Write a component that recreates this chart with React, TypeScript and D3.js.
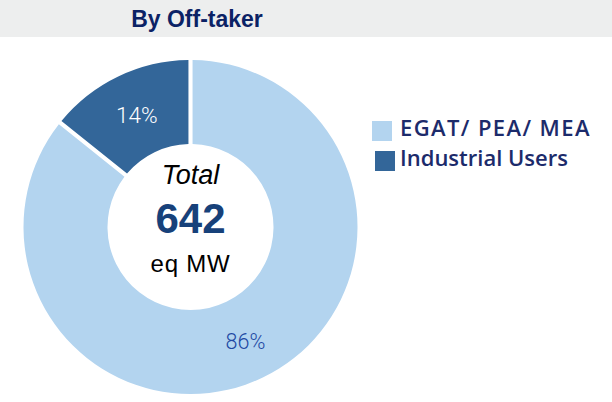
import React from "react";
import * as d3 from "d3";

const categories = ["EGAT/ PEA/ MEA", "Industrial Users"];
const shares = [86, 14];
const colors = ["#B3D4EF", "#336699"];
const labelColors = ["#2148A3", "#FFFFFF"];
const title = "By Off-taker";
const totalValue = "642";
const totalUnit = "eq MW";

const W = 612;
const H = 402;
const cx = 190.5;
const cy = 227;
const rOut = 167;
const rIn = 83;

export default function App() {
  const pie = d3
    .pie<number>()
    .sort(null)
    .value((d) => d)
    .startAngle(0)
    .endAngle(2 * Math.PI)
    .padAngle(0.022);
  const arcs = pie(shares);
  const arc = d3.arc<d3.PieArcDatum<number>>().innerRadius(rIn).outerRadius(rOut);
  const labelR = [127, 124];
  const labelPos = arcs.map((a, i) => {
    const m = (a.startAngle + a.endAngle) / 2;
    return [Math.sin(m) * labelR[i], -Math.cos(m) * labelR[i]];
  });

  return (
    <svg
      width={W}
      height={H}
      style={{ position: "absolute", left: 0, top: 0, background: "#fff" }}
      fontFamily="'Liberation Sans', Arial, sans-serif"
    >
      <rect x={0} y={0} width={W} height={37} fill="#EDEEEE" />
      <text x={197} y={27} textAnchor="middle" fontSize={23} fontWeight="bold" fill="#0B2265">
        {title}
      </text>
      <g transform={`translate(${cx},${cy})`}>
        {arcs.map((a, i) => (
          <path key={i} d={arc(a) || ""} fill={colors[i]} />
        ))}
        {arcs.map((a, i) => (
          <text
            key={"l" + i}
            x={labelPos[i][0]}
            y={labelPos[i][1]}
            textAnchor="middle"
            dominantBaseline="central"
            fontFamily="Roboto, sans-serif"
            fontWeight={300}
            fontSize={i === 0 ? 21.5 : 22.5}
            fill={labelColors[i]}
          >
            {shares[i]}%
          </text>
        ))}
        <text x={0} y={-43} textAnchor="middle" fontSize={27} fontStyle="italic" fill="#000">
          Total
        </text>
        <text x={0} y={6} textAnchor="middle" fontSize={42} fontWeight="bold" fill="#17417A">
          {totalValue}
        </text>
        <text x={0} y={45} textAnchor="middle" fontSize={24} fill="#000" letterSpacing={0.8}>
          {totalUnit}
        </text>
      </g>
      <g>
        {categories.map((c, i) => (
          <g key={c}>
            <rect x={i === 0 ? 372 : 375} y={i === 0 ? 121 : 151} width={20} height={20} fill={colors[i]} />
            <text
              x={400}
              y={i === 0 ? 135.5 : 166}
              fontSize={22}
              fontFamily="'Open Sans', sans-serif"
              fontWeight={600}
              letterSpacing={i === 0 ? 1.4 : 0}
              fill="#1C2B6B"
            >
              {c}
            </text>
          </g>
        ))}
      </g>
    </svg>
  );
}
